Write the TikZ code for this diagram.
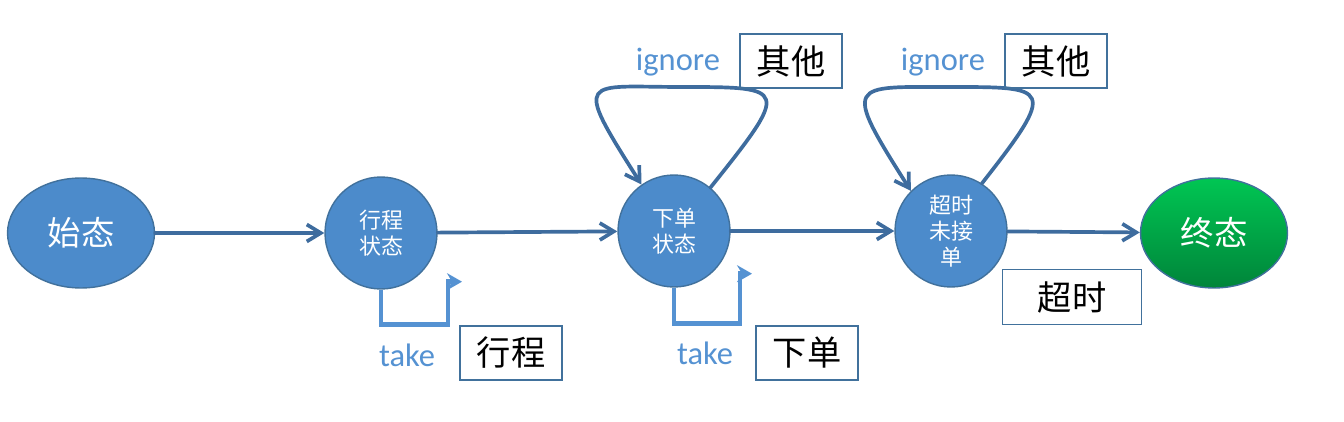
\documentclass[tikz,border=0pt]{standalone}
\usepackage{fontspec}
\setmainfont{Carlito}
\newfontfamily\cjk{Noto Sans CJK SC}
\usetikzlibrary{arrows.meta,shapes.geometric}

\definecolor{stfill}{HTML}{4C8BCB}
\definecolor{stline}{HTML}{41719C}
\definecolor{arrowc}{HTML}{3E6C9E}
\definecolor{lblblue}{HTML}{5592D2}
\definecolor{endtop}{HTML}{00C653}
\definecolor{endbot}{HTML}{00853A}

\tikzset{
  bigstate/.style={ellipse,draw=stline,line width=0.8pt,fill=stfill,
    minimum width=2.94cm,minimum height=2.2cm,inner sep=0pt,text=white,
    font=\cjk\fontsize{19}{22}\selectfont},
  state/.style={circle,draw=stline,line width=0.8pt,fill=stfill,
    minimum size=2.24cm,inner sep=0pt,text=white,align=center,
    font=\cjk\fontsize{12.5}{15}\selectfont},
  inbox/.style={draw=stline,line width=1.1pt,minimum width=2.04cm,
    minimum height=1.07cm,inner sep=0pt,font=\cjk\fontsize{19.5}{22}\selectfont},
  evt/.style={text=lblblue,inner sep=0pt,font=\fontsize{18.5}{22}\selectfont},
  trans/.style={draw=arrowc,line width=2.1pt,line cap=round,
    -{Straight Barb[length=0.28cm,width=0.34cm]}},
  takeline/.style={draw=lblblue,line width=2.5pt,
    -{Stealth[length=0.3cm,width=0.34cm,inset=0.1cm]}}
}

\begin{document}
\begin{tikzpicture}[x=0.02cm,y=-0.02cm]
  \useasboundingbox (0,0) rectangle (1344,422);
  % states
  \node[bigstate] (start) at (81,233) {始态};
  \node[state] (trip) at (381,233) {行程\\状态};
  \node[state] (order) at (674,231) {下单\\状态};
  \node[state] (wait) at (951,231) {超时\\未接\\单};
  \node[bigstate,top color=endtop,bottom color=endbot] (final) at (1214,233) {终态};
  % main transitions
  \draw[trans] (start) -- (trip);
  \draw[trans] (trip) -- (order);
  \draw[trans] (order) -- (wait);
  \draw[trans] (wait) -- (final);
  % ignore loops
  \coordinate (ordertop) at (683,87);
  \coordinate (waittop) at (950,87);
  \draw[trans] (order.50) .. controls +(80,-100) and +(105,0) .. (ordertop)
        .. controls +(-100,0) and +(-70,-110) .. (order.125);
  \draw[trans] (wait.57) .. controls +(76,-97) and +(100,0) .. (waittop)
        .. controls +(-100,0) and +(-70,-110) .. (wait.135);
  % take loops
  \draw[takeline] (trip.south) -- ++(0,35) -- ++(67,0) -- ++(0,-43) -- ++(14,0);
  \draw[takeline] (order.south) -- ++(0,36) -- ++(66,0) -- ++(0,-50) -- ++(12,0);
  % labels
  \node[evt] (ign1) at (678,62) {ignore};
  \node[inbox] (oth1) at (791,61) {其他};
  \node[evt] (ign2) at (943,62) {ignore};
  \node[inbox] (oth2) at (1056,61) {其他};
  \node[evt] (take1) at (407,355) {take};
  \node[inbox] (tripbox) at (511,353) {行程};
  \node[evt] (take2) at (705,353) {take};
  \node[inbox] (orderbox) at (807,353) {下单};
  \node[inbox,minimum width=2.78cm,minimum height=1.1cm] (timeout) at (1072,297) {超时};
\end{tikzpicture}
\end{document}
